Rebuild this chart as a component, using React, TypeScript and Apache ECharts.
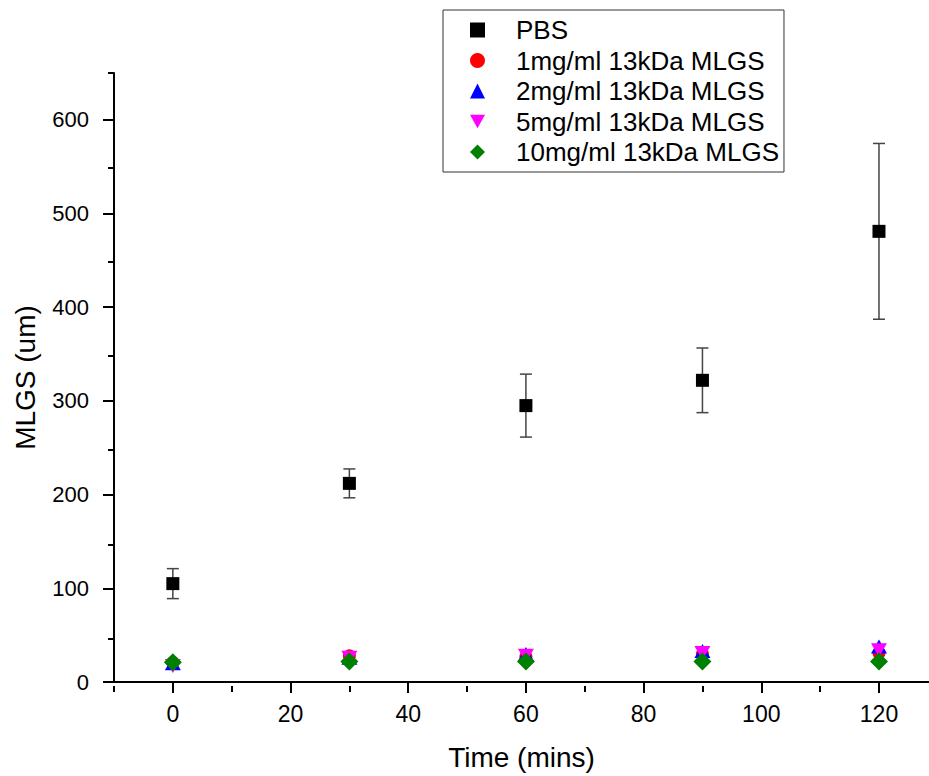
import React, { useEffect, useRef } from "react";
import * as echarts from "echarts";

const times = [0, 30, 60, 90, 120];
const pbs = [105, 212, 295, 322, 481];
const pbsErr = [16, 15.4, 33.6, 34.5, 93.8];
const mg1 = [21, 28, 27, 30, 31];
const mg2 = [20, 26, 30, 33, 38];
const mg5 = [17, 26, 28, 31, 34];
const mg10 = [21, 22, 22, 22, 22];
const seriesNames = [
  "PBS",
  "1mg/ml 13kDa MLGS",
  "2mg/ml 13kDa MLGS",
  "5mg/ml 13kDa MLGS",
  "10mg/ml 13kDa MLGS",
];
const xMajorTicks = [0, 20, 40, 60, 80, 100, 120];
const xMinorTicks = [-10, 10, 30, 50, 70, 90, 110];
const yMajorTicks = [0, 100, 200, 300, 400, 500, 600];
const yMinorTicks = [50, 150, 250, 350, 450, 550, 650];

const FONT = "'Liberation Sans', Arial, sans-serif";
const DOWN_TRI = "path://M0,0 L10,0 L5,9 Z";

export default function App() {
  const ref = useRef<HTMLDivElement>(null);
  useEffect(() => {
    if (!ref.current) return;
    const chart = echarts.init(ref.current, null, { renderer: "svg" });
    const pair = (vals: number[]) => times.map((t, i) => [t, vals[i]]);
    const errData = times.map((t, i) => [t, pbs[i] - pbsErr[i], pbs[i] + pbsErr[i]]);
    const axisLine = { show: true, onZero: false, lineStyle: { color: "#000", width: 2 } };
    const hiddenLine = { show: false, onZero: false };
    const grid = { left: 114, top: 73, right: 0, bottom: 90 };
    chart.setOption({
      animation: false,
      textStyle: { fontFamily: FONT },
      grid: [grid, grid],
      legend: {
        data: seriesNames,
        orient: "vertical",
        left: 443,
        top: 10,
        padding: [7, 5, 7, 27],
        itemWidth: 15,
        itemHeight: 15,
        itemGap: 4.5,
        borderColor: "#333",
        borderWidth: 1,
        textStyle: { fontFamily: FONT, fontSize: 26, color: "#000", lineHeight: 24, padding: [0, 0, 0, 26] },
      },
      xAxis: [
        {
          type: "value",
          gridIndex: 0,
          min: -10,
          max: 128.5,
          splitLine: { show: false },
          axisLine,
          axisTick: { show: true, customValues: xMajorTicks, length: 11, lineStyle: { color: "#000", width: 2 } },
          axisLabel: { customValues: xMajorTicks, fontSize: 23, color: "#000", margin: 20, fontFamily: FONT },
          name: "Time (mins)",
          nameLocation: "middle",
          nameGap: 61,
          nameTextStyle: { fontSize: 28, color: "#000", fontFamily: FONT },
        },
        {
          type: "value",
          gridIndex: 1,
          min: -10,
          max: 128.5,
          splitLine: { show: false },
          axisLine: hiddenLine,
          axisTick: { show: true, customValues: xMinorTicks, length: 6, lineStyle: { color: "#000", width: 2 } },
          axisLabel: { show: false },
        },
      ],
      yAxis: [
        {
          type: "value",
          gridIndex: 0,
          min: 0,
          max: 650,
          splitLine: { show: false },
          axisLine,
          axisTick: { show: true, customValues: yMajorTicks, length: 11, lineStyle: { color: "#000", width: 2 } },
          axisLabel: { customValues: yMajorTicks, fontSize: 22, color: "#000", margin: 25, fontFamily: FONT },
          name: "MLGS (um)",
          nameLocation: "middle",
          nameGap: 75,
          nameTextStyle: { fontSize: 28, color: "#000", fontFamily: FONT },
        },
        {
          type: "value",
          gridIndex: 1,
          min: 0,
          max: 650,
          splitLine: { show: false },
          axisLine: hiddenLine,
          axisTick: { show: true, customValues: yMinorTicks, length: 6, lineStyle: { color: "#000", width: 2 } },
          axisLabel: { show: false },
        },
      ],
      series: [
        {
          type: "custom",
          name: "err",
          xAxisIndex: 0,
          yAxisIndex: 0,
          z: 1,
          data: errData,
          renderItem: (params: any, api: any) => {
            const x = api.value(0);
            const lo = api.coord([x, api.value(1)]);
            const hi = api.coord([x, api.value(2)]);
            const w = 6;
            const style = { stroke: "#444", lineWidth: 1.5 };
            return {
              type: "group",
              children: [
                { type: "line", shape: { x1: lo[0], y1: lo[1], x2: hi[0], y2: hi[1] }, style },
                { type: "line", shape: { x1: lo[0] - w, y1: lo[1], x2: lo[0] + w, y2: lo[1] }, style },
                { type: "line", shape: { x1: hi[0] - w, y1: hi[1], x2: hi[0] + w, y2: hi[1] }, style },
              ],
            };
          },
        },
        {
          type: "scatter",
          name: seriesNames[0],
          data: pair(pbs),
          symbol: "rect",
          symbolSize: 13,
          itemStyle: { color: "#000", opacity: 1 },
          z: 3,
        },
        {
          type: "scatter",
          name: seriesNames[1],
          data: pair(mg1),
          symbol: "circle",
          symbolSize: 13,
          itemStyle: { color: "#ff0000", opacity: 1 },
          z: 3,
        },
        {
          type: "scatter",
          name: seriesNames[2],
          data: pair(mg2),
          symbol: "triangle",
          symbolSize: [16, 14],
          itemStyle: { color: "#0000ff", opacity: 1 },
          z: 3,
        },
        {
          type: "scatter",
          name: seriesNames[3],
          data: pair(mg5),
          symbol: DOWN_TRI,
          symbolSize: [16, 14],
          itemStyle: { color: "#ff00ff", opacity: 1 },
          z: 3,
        },
        {
          type: "scatter",
          name: seriesNames[4],
          data: pair(mg10),
          symbol: "diamond",
          symbolSize: [18, 18],
          itemStyle: { color: "#008000", opacity: 1 },
          z: 3,
        },
      ],
    });
    return () => chart.dispose();
  }, []);
  return (
    <div
      ref={ref}
      style={{ position: "absolute", left: 0, top: 0, width: 929, height: 776, background: "#fff" }}
    />
  );
}
